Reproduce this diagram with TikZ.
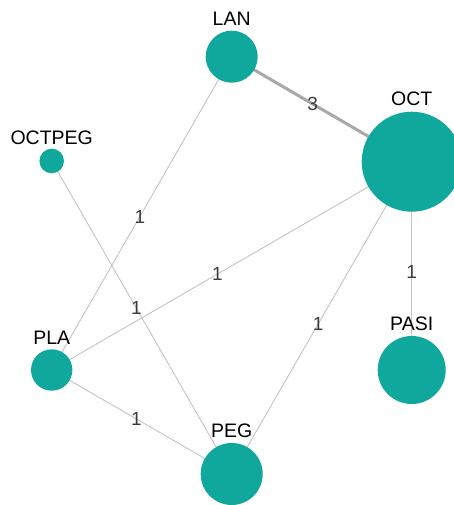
\documentclass[tikz,border=0pt]{standalone}
\usepackage{fontspec}
\setmainfont{Liberation Sans}
\usetikzlibrary{backgrounds}
\definecolor{teal1}{RGB}{16,168,156}
\definecolor{edgegray}{RGB}{196,196,196}
\definecolor{thickgray}{RGB}{168,168,168}
\definecolor{lblgray}{RGB}{60,60,60}
\tikzset{
  vtx/.style={circle, fill=teal1, draw=none, inner sep=0pt, minimum size=#1},
  nlabel/.style={font=\fontsize{19.5}{21}\selectfont, text=black, inner sep=0pt},
  elabel/.style={font=\fontsize{19}{21}\selectfont, text=lblgray, inner sep=0pt},
  thinedge/.style={draw=edgegray, line width=0.9pt},
  thickedge/.style={draw=thickgray, line width=3pt},
}
\begin{document}
\begin{tikzpicture}[x=1pt,y=-1pt]
\clip (0,0) rectangle (454,505);
% nodes
\node[vtx=52pt, label={[nlabel, label distance=5pt]above:LAN}] (LAN) at (231.7,56.7) {};
\node[vtx=100pt, label={[nlabel, label distance=6pt]above:OCT}] (OCT) at (411.7,161.7) {};
\node[vtx=24.6pt, label={[nlabel, label distance=4pt]above:OCTPEG}] (OCTPEG) at (51.7,161) {};
\node[vtx=68pt, label={[nlabel, label distance=5pt]above:PASI}] (PASI) at (411.7,370) {};
\node[vtx=41.4pt, label={[nlabel, label distance=4.5pt]above:PLA}] (PLA) at (51.7,370) {};
\node[vtx=62pt, label={[nlabel, label distance=5pt]above:PEG}] (PEG) at (231.7,474) {};
% edges (behind nodes)
\begin{scope}[on background layer]
\fill[white] (0,0) rectangle (454,505);
\draw[thickedge] (LAN.center) -- node[elabel, pos=0.45] {3} (OCT.center);
\draw[thinedge] (LAN.center) -- node[elabel, pos=0.51] {1} (PLA.center);
\draw[thinedge] (OCTPEG.center) -- node[elabel, pos=0.47] {1} (PEG.center);
\draw[thinedge] (OCT.center) -- node[elabel, pos=0.54] {1} (PLA.center);
\draw[thinedge] (OCT.center) -- node[elabel, pos=0.52] {1} (PEG.center);
\draw[thinedge] (OCT.center) -- node[elabel, pos=0.53] {1} (PASI.center);
\draw[thinedge] (PLA.center) -- node[elabel, pos=0.47] {1} (PEG.center);
\end{scope}
\end{tikzpicture}
\end{document}
